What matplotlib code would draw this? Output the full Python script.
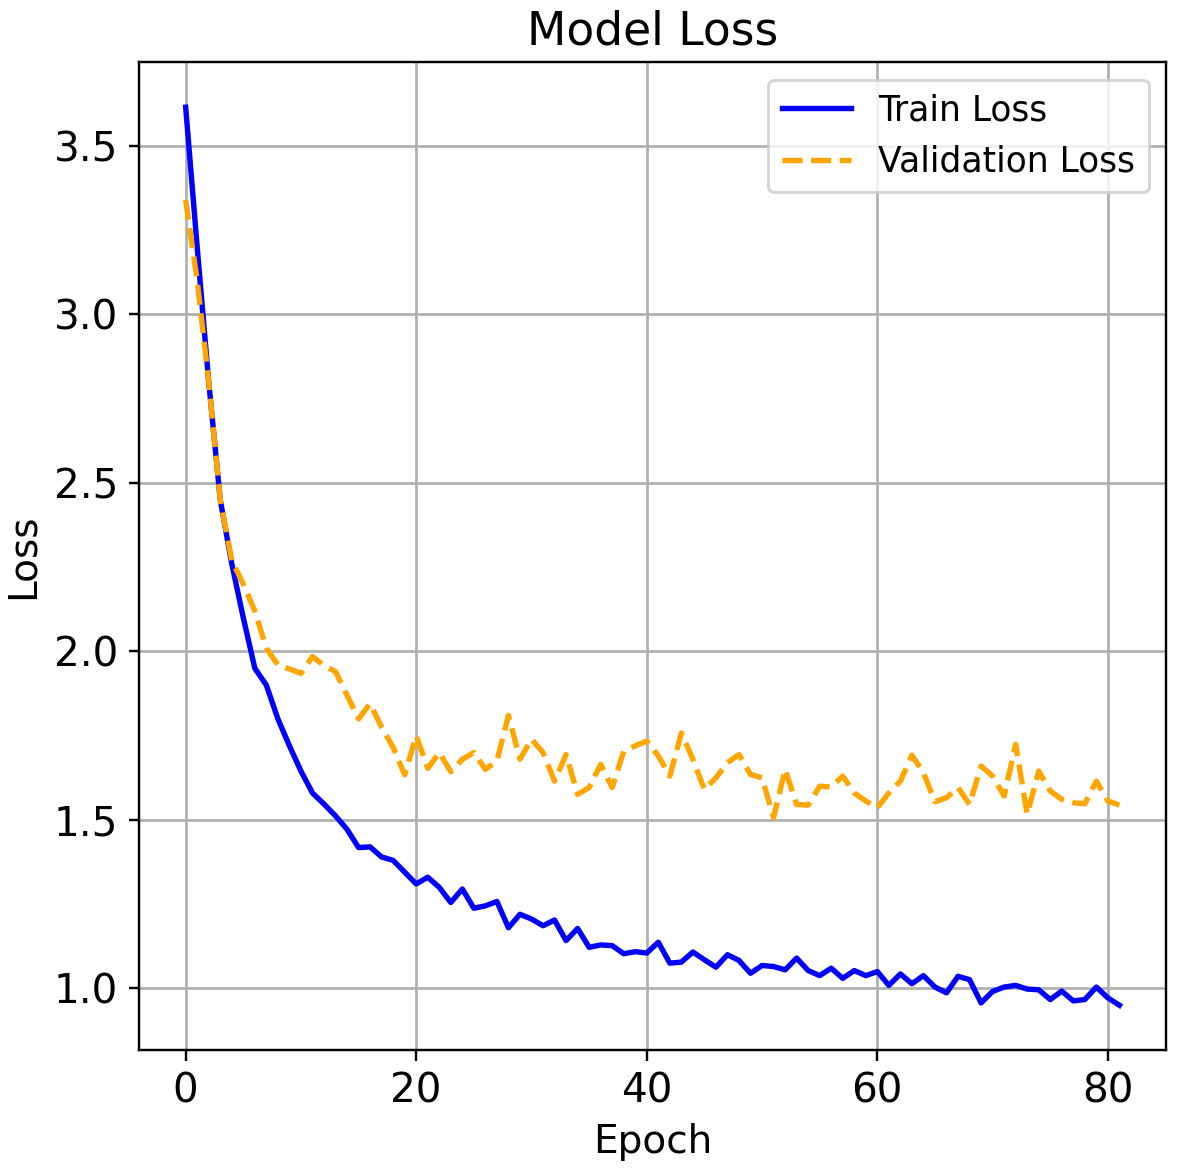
import numpy as np
import matplotlib
matplotlib.use('Agg')
import matplotlib.pyplot as plt

train_loss = [
    3.615, 3.20, 2.80, 2.45, 2.26, 2.10, 1.95, 1.90, 1.80, 1.72,
    1.645, 1.58, 1.547, 1.512, 1.472, 1.418, 1.42, 1.39, 1.38, 1.345,
    1.31, 1.33, 1.30, 1.255, 1.295, 1.238, 1.245, 1.258, 1.18, 1.22,
    1.206, 1.186, 1.203, 1.142, 1.178, 1.122, 1.129, 1.127, 1.103, 1.109,
    1.105, 1.137, 1.075, 1.078, 1.108, 1.085, 1.063, 1.10, 1.083, 1.045,
    1.068, 1.065, 1.055, 1.09, 1.053, 1.038, 1.06, 1.03, 1.053, 1.038,
    1.05, 1.009, 1.043, 1.014, 1.038, 1.004, 0.987, 1.036, 1.026, 0.957,
    0.991, 1.004, 1.009, 0.998, 0.996, 0.967, 0.992, 0.963, 0.967, 1.004,
    0.972, 0.95,
]
val_loss = [
    3.34, 3.10, 2.80, 2.45, 2.27, 2.20, 2.12, 2.01, 1.96, 1.948,
    1.935, 1.985, 1.958, 1.94, 1.87, 1.80, 1.845, 1.775, 1.715, 1.634,
    1.75, 1.653, 1.70, 1.643, 1.68, 1.70, 1.65, 1.675, 1.81, 1.68,
    1.74, 1.70, 1.615, 1.694, 1.576, 1.596, 1.665, 1.596, 1.704, 1.72,
    1.734, 1.69, 1.63, 1.758, 1.68, 1.59, 1.625, 1.67, 1.694, 1.635,
    1.625, 1.507, 1.65, 1.546, 1.544, 1.60, 1.598, 1.63, 1.58, 1.556,
    1.536, 1.58, 1.615, 1.692, 1.64, 1.554, 1.566, 1.596, 1.546, 1.66,
    1.63, 1.571, 1.724, 1.517, 1.645, 1.586, 1.561, 1.551, 1.548, 1.615,
    1.556, 1.544,
]
epochs = np.arange(len(train_loss))

fig = plt.figure(figsize=(1196 / 216, 1176 / 216), dpi=216)
ax = fig.add_axes([0.1162, 0.107, 0.975 - 0.1162, 0.947 - 0.107])

ax.plot(epochs, train_loss, color='blue', linewidth=1.8, label='Train Loss')
ax.plot(epochs, val_loss, color='orange', linestyle='--', linewidth=1.8, label='Validation Loss')

ax.set_title('Model Loss', fontsize=15.2)
ax.set_xlabel('Epoch', fontsize=13)
ax.set_ylabel('Loss', fontsize=13)
ax.tick_params(labelsize=13.5)
ax.legend(fontsize=11.5, loc='upper right')
ax.grid(True, linewidth=0.9)

fig.savefig('out.png', dpi=216)
